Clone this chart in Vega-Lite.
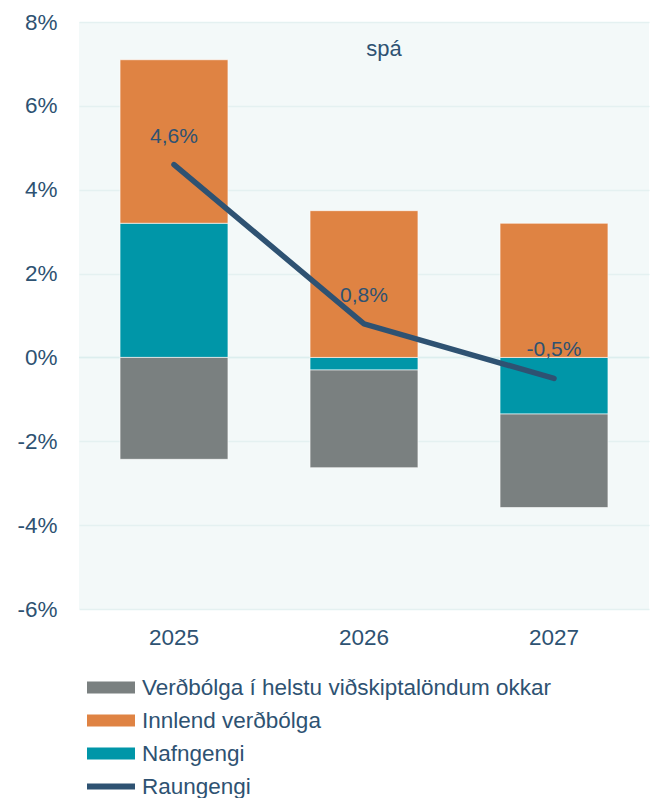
{
  "$schema": "https://vega.github.io/schema/vega-lite/v6.json",
  "width": 570,
  "height": 587,
  "autosize": {"type": "none"},
  "padding": {"left": 79, "top": 22, "right": 12, "bottom": 189},
  "background": "#ffffff",
  "config": {
    "view": {"fill": "#F3F9F9", "stroke": null},
    "font": "Liberation Sans",
    "axis": {"labelColor": "#2E5272", "labelFont": "Liberation Sans", "labelFontSize": 22.5, "title": null},
    "legend": {"labelColor": "#2E5272", "labelFont": "Liberation Sans", "labelFontSize": 22.5, "labelLimit": 0, "title": null, "clipHeight": 33, "rowPadding": 0, "labelOffset": 7, "padding": 0}
  },
  "datasets": {
    "bars": [
      {"year": "2025", "series": "Nafngengi", "value": 3.2},
      {"year": "2025", "series": "Innlend verðbólga", "value": 3.9},
      {"year": "2025", "series": "Verðbólga í helstu viðskiptalöndum okkar", "value": -2.43},
      {"year": "2026", "series": "Nafngengi", "value": -0.3},
      {"year": "2026", "series": "Innlend verðbólga", "value": 3.5},
      {"year": "2026", "series": "Verðbólga í helstu viðskiptalöndum okkar", "value": -2.33},
      {"year": "2027", "series": "Nafngengi", "value": -1.35},
      {"year": "2027", "series": "Innlend verðbólga", "value": 3.2},
      {"year": "2027", "series": "Verðbólga í helstu viðskiptalöndum okkar", "value": -2.23}
    ],
    "line": [
      {"year": "2025", "value": 4.6, "label": "4,6%"},
      {"year": "2026", "value": 0.8, "label": "0,8%"},
      {"year": "2027", "value": -0.5, "label": "-0,5%"}
    ]
  },
  "layer": [
    {
      "data": {"values": [{"z": 0}]},
      "mark": {"type": "rule", "color": "#DCEEEE", "strokeWidth": 1.5},
      "encoding": {"y": {"field": "z", "type": "quantitative"}}
    },
    {
      "data": {"name": "bars"},
      "transform": [
        {"calculate": "indexof(['Nafngengi','Innlend verðbólga','Verðbólga í helstu viðskiptalöndum okkar'], datum.series)", "as": "ord"}
      ],
      "mark": {"type": "bar", "stroke": "#ffffff", "strokeWidth": 1, "strokeOpacity": 0.6},
      "encoding": {
        "x": {
          "field": "year", "type": "nominal",
          "scale": {"paddingInner": 0.432, "paddingOuter": 0.216},
          "axis": {"labelAngle": 0, "domain": false, "ticks": false, "labelPadding": 17}
        },
        "y": {
          "field": "value", "type": "quantitative", "stack": "zero",
          "scale": {"domain": [-6, 8], "nice": false, "zero": false},
          "axis": {
            "values": [-6, -4, -2, 0, 2, 4, 6, 8],
            "labelExpr": "datum.value + '%'",
            "grid": true, "gridColor": "#E4F1F1", "gridWidth": 1.5,
            "domain": false, "ticks": false, "labelPadding": 22
          }
        },
        "color": {
          "field": "series", "type": "nominal",
          "scale": {
            "domain": ["Verðbólga í helstu viðskiptalöndum okkar", "Innlend verðbólga", "Nafngengi"],
            "range": ["#7A8080", "#DF8343", "#0096A8"]
          },
          "legend": {
            "orient": "none", "legendX": 8, "legendY": 649, "direction": "vertical",
            "symbolType": "M-1,-0.25H1V0.25H-1Z", "symbolSize": 2304, "symbolStrokeWidth": 0
          }
        },
        "order": {"field": "ord", "type": "quantitative"}
      }
    },
    {
      "data": {"name": "line"},
      "mark": {"type": "line", "strokeWidth": 5.5, "strokeCap": "round", "strokeJoin": "round"},
      "encoding": {
        "x": {"field": "year", "type": "nominal"},
        "y": {"field": "value", "type": "quantitative"},
        "stroke": {
          "datum": "Raungengi",
          "scale": {"range": ["#2E5272"]},
          "legend": {
            "orient": "none", "legendX": 5, "legendY": 748, "direction": "vertical",
            "symbolType": "stroke", "symbolSize": 2304, "symbolStrokeWidth": 6, "labelOffset": 4
          }
        }
      }
    },
    {
      "data": {"name": "line"},
      "mark": {"type": "text", "dy": -28, "fontSize": 21, "color": "#2E5272", "font": "Liberation Sans"},
      "encoding": {
        "x": {"field": "year", "type": "nominal"},
        "y": {"field": "value", "type": "quantitative"},
        "text": {"field": "label"}
      }
    },
    {
      "data": {"values": [{"year": "2026", "v": 7.35, "t": "spá"}]},
      "mark": {"type": "text", "dx": 20, "fontSize": 22, "color": "#2E5272", "font": "Liberation Sans"},
      "encoding": {
        "x": {"field": "year", "type": "nominal"},
        "y": {"field": "v", "type": "quantitative"},
        "text": {"field": "t"}
      }
    }
  ]
}
